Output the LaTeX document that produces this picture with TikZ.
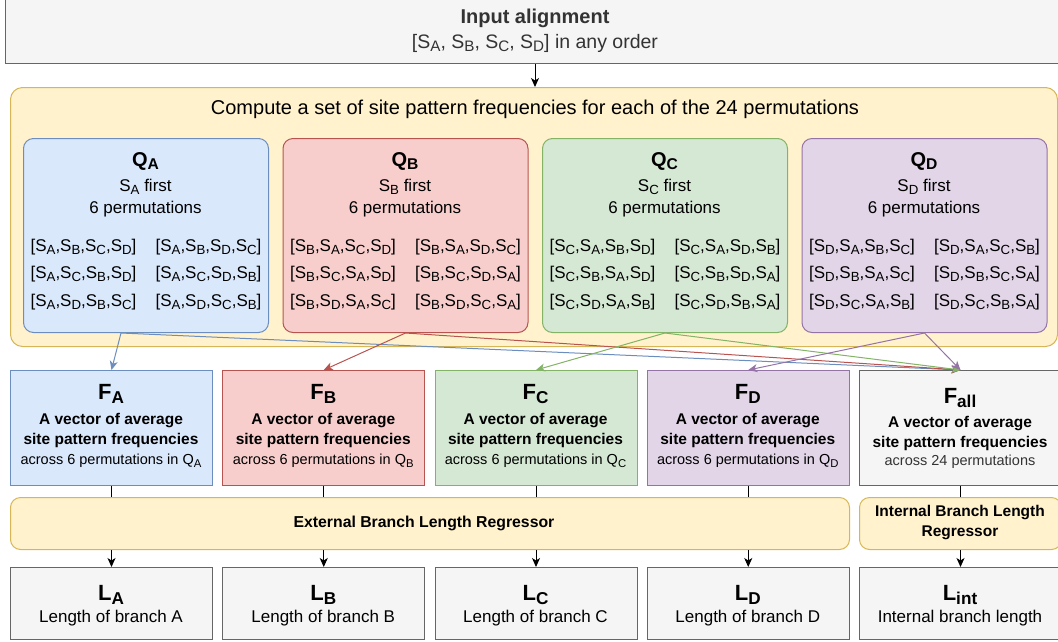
\documentclass[tikz,border=0pt]{standalone}
\usepackage{fontspec}
\setmainfont{Liberation Sans}
\usepackage{graphicx}
\usetikzlibrary{arrows.meta}

\definecolor{bluef}{HTML}{DAE8FC}\definecolor{bluel}{HTML}{6C8EBF}
\definecolor{redf}{HTML}{F8CECC}\definecolor{redl}{HTML}{B85450}
\definecolor{greenf}{HTML}{D5E8D4}\definecolor{greenl}{HTML}{82B366}
\definecolor{purpf}{HTML}{E1D5E7}\definecolor{purpl}{HTML}{9673A6}
\definecolor{yelf}{HTML}{FFF2CC}\definecolor{yell}{HTML}{D6B656}
\definecolor{grayf}{HTML}{F5F5F5}\definecolor{grayl}{HTML}{666666}
\definecolor{txtg}{HTML}{333333}

% subscript in the text font
\newcommand\sbx[1]{\raisebox{-0.34ex}{\scalebox{0.78}{#1}}}
\newcommand\fs[1]{\fontsize{#1}{#1}\selectfont}
\def\permx#1#2#3#4{[S\sbx{#1},S\sbx{#2},S\sbx{#3},S\sbx{#4}]}

\tikzset{
  panel/.style={draw, line width=1pt, anchor=north west, inner sep=0pt},
  txt/.style={inner sep=0pt, anchor=center},
  edge/.style={line width=1pt, -{Stealth[length=9pt,width=8pt,inset=2.5pt]}},
  plain/.style={line width=1pt},
}

\begin{document}
\begin{tikzpicture}[x=1pt,y=-1pt]
\useasboundingbox (0,0) rectangle (1058,641);

% input alignment
\node[panel, fill=grayf, draw=grayl, minimum width=1060pt, minimum height=64pt] (inp) at (5,-1) {};
\node[txt, text=txtg, font=\fs{20}\bfseries] (inpt) at (535,18) {Input alignment};
\node[txt, text=txtg, font=\fs{19.5}] (inps) at (535,43) {[S\sbx{A}, S\sbx{B}, S\sbx{C}, S\sbx{D}] in any order};

% permutation stage
\node[panel, fill=yelf, draw=yell, rounded corners=12pt, minimum width=1047pt, minimum height=259pt] (perm) at (10,87) {};
\node[txt, font=\fs{20}] (permt) at (535,109) {Compute a set of site pattern frequencies for each of the 24 permutations};

\foreach \i/\L/\cf/\cl/\pa/\pb/\pc/\pd/\pe/\pf in {
  0/A/bluef/bluel/ABCD/ABDC/ACBD/ACDB/ADBC/ADCB,
  1/B/redf/redl/BACD/BADC/BCAD/BCDA/BDAC/BDCA,
  2/C/greenf/greenl/CABD/CADB/CBAD/CBDA/CDAB/CDBA,
  3/D/purpf/purpl/DABC/DACB/DBAC/DBCA/DCAB/DCBA}{
  \pgfmathsetmacro\xo{23+259.5*\i}
  \pgfmathsetmacro\cx{\xo+122.5}
  \node[panel, fill=\cf, draw=\cl, rounded corners=10pt, minimum width=245pt, minimum height=194pt] (q\L) at (\xo,138) {};
  \node[txt, font=\fs{20}\bfseries] (q\L t) at (\cx,161) {Q\sbx{\L}};
  \node[txt, font=\fs{17}] (q\L s) at (\cx,187) {S\sbx{\L} first};
  \node[txt, font=\fs{17}] (q\L n) at (\cx,209) {6 permutations};
  \node[txt, font=\fs{17}] (q\L 1) at (\cx-62,247) {\expandafter\permx\pa};
  \node[txt, font=\fs{17}] (q\L 2) at (\cx+63,247) {\expandafter\permx\pb};
  \node[txt, font=\fs{17}] (q\L 3) at (\cx-62,274) {\expandafter\permx\pc};
  \node[txt, font=\fs{17}] (q\L 4) at (\cx+63,274) {\expandafter\permx\pd};
  \node[txt, font=\fs{17}] (q\L 5) at (\cx-62,302) {\expandafter\permx\pe};
  \node[txt, font=\fs{17}] (q\L 6) at (\cx+63,302) {\expandafter\permx\pf};
}

% averaged frequency vectors
\foreach \i/\L/\cf/\cl in {0/A/bluef/bluel, 1/B/redf/redl, 2/C/greenf/greenl, 3/D/purpf/purpl}{
  \pgfmathsetmacro\xo{10+212.25*\i}
  \pgfmathsetmacro\cx{\xo+101}
  \node[panel, fill=\cf, draw=\cl, minimum width=202pt, minimum height=115pt] (f\L) at (\xo,370) {};
  \node[txt, font=\fs{22}\bfseries] (f\L t) at (\cx,394) {F\sbx{\L}};
  \node[txt, font=\fs{15.5}\bfseries] (f\L a) at (\cx,421) {A vector of average};
  \node[txt, font=\fs{15.5}\bfseries] (f\L b) at (\cx,440) {site pattern frequencies};
  \node[txt, font=\fs{14.5}] (f\L c) at (\cx,461) {across 6 permutations in Q\sbx{\L}};
}
\node[panel, fill=grayf, draw=grayl, minimum width=202pt, minimum height=115pt] (fall) at (859,370) {};
\node[txt, font=\fs{22}\bfseries] (fallt) at (960,398) {F\sbx{all}};
\node[txt, font=\fs{15.5}\bfseries] (falla) at (960,424) {A vector of average};
\node[txt, font=\fs{15.5}\bfseries] (fallb) at (960,443) {site pattern frequencies};
\node[txt, text=txtg, font=\fs{14.5}] (fallc) at (960,462) {across 24 permutations};

% regressors
\node[panel, fill=yelf, draw=yell, rounded corners=10pt, minimum width=839pt, minimum height=52pt] (ext) at (10,497) {};
\node[txt, font=\fs{15.8}\bfseries] (extt) at (424,523) {External Branch Length Regressor};
\node[panel, fill=yelf, draw=yell, rounded corners=10pt, minimum width=202pt, minimum height=52pt] (int) at (859,497) {};
\node[txt, font=\fs{15.5}\bfseries] (intt1) at (960,513) {Internal Branch Length};
\node[txt, font=\fs{15.5}\bfseries] (intt2) at (960,533) {Regressor};

% branch lengths
\foreach \i/\L in {0/A, 1/B, 2/C, 3/D}{
  \pgfmathsetmacro\xo{10+212.25*\i}
  \pgfmathsetmacro\cx{\xo+101}
  \node[panel, fill=grayf, draw=grayl, minimum width=202pt, minimum height=72pt] (l\L) at (\xo,567) {};
  \node[txt, font=\fs{22}\bfseries] (l\L t) at (\cx,595) {L\sbx{\L}};
  \node[txt, font=\fs{17}] (l\L s) at (\cx,618) {Length of branch \L};
}
\node[panel, fill=grayf, draw=grayl, minimum width=202pt, minimum height=72pt] (lint) at (859,567) {};
\node[txt, font=\fs{22}\bfseries] (lintt) at (960,595) {L\sbx{int}};
\node[txt, font=\fs{17}] (lints) at (960,618) {Internal branch length};

% connectors
\draw[edge] (inp.south -| permt) -- (perm.north -| permt);

\coordinate (qAo) at ([xshift=-25pt]qA.south);
\draw[edge, bluel] (qAo) -- (fA.north);
\draw[edge, bluel] (qAo) -- (fall.north);
\draw[edge, redl] (qB.south) -- (fB.north);
\draw[edge, redl] (qB.south) -- (fall.north);
\draw[edge, greenl] (qC.south) -- (fC.north);
\draw[edge, greenl] (qC.south) -- (fall.north);
\draw[edge, purpl] (qD.south) -- (fD.north);
\draw[edge, purpl] (qD.south) -- (fall.north);

\foreach \L in {A,B,C,D}{
  \draw[plain] (f\L.south) -- (f\L.south |- ext.north);
  \draw[edge] (l\L.north |- ext.south) -- (l\L.north);
}
\draw[plain] (fall.south) -- (int.north);
\draw[edge] (int.south) -- (lint.north);
\end{tikzpicture}
\end{document}
